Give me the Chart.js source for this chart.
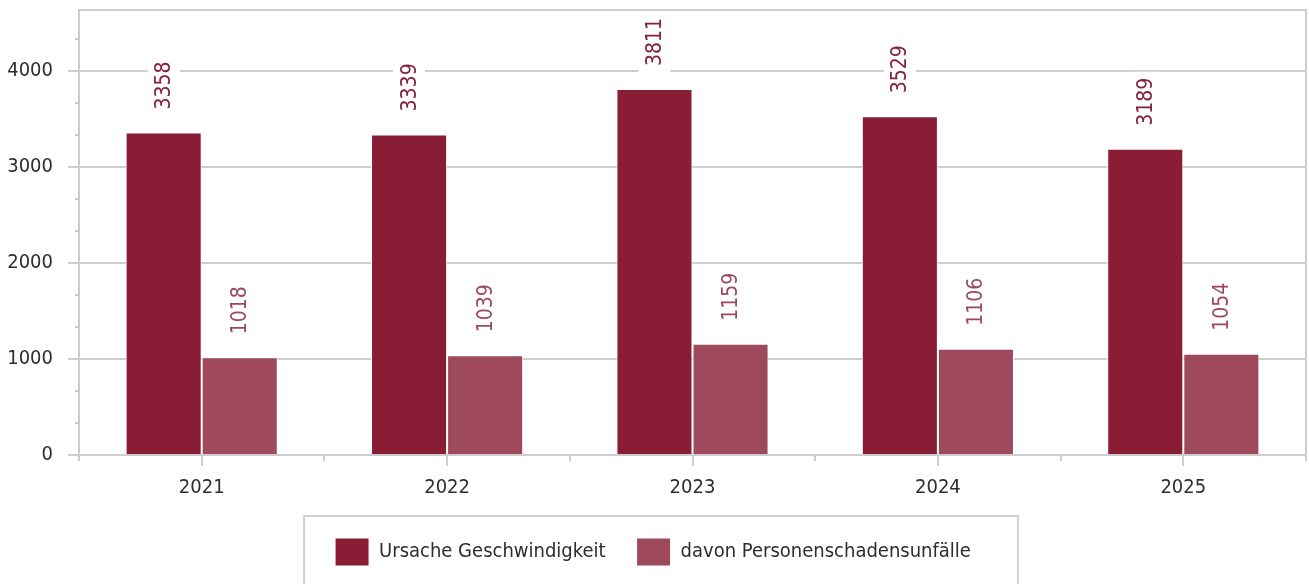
<!DOCTYPE html>
<html>
<head>
<meta charset="utf-8">
<script src="https://cdn.jsdelivr.net/npm/chart.js@4/dist/chart.umd.min.js"></script>
<style>
    html, body { margin: 0; padding: 0; background: #ffffff; }
    #wrap { width: 1309px; height: 584px; position: relative; }
</style>
</head>
<body>
<div id="wrap"><canvas id="speedChart"></canvas></div>
<script>
// ================================
// Geschwindigkeitsunfälle 2021-2025
// ================================

const years = ["2021", "2022", "2023", "2024", "2025"];

const speedAccidents = [3358, 3339, 3811, 3529, 3189];

const personalInjury = [1018, 1039, 1159, 1106, 1054];

const seriesNames = ["Ursache Geschwindigkeit", "davon Personenschadensunfälle"];

const yTicks = [0, 1000, 2000, 3000, 4000];

const barColors = ["#891d35", "#9e4a5c"];
const labelColors = ["#84213b", "#9a4a5c"];
const gridColor = "#cdcdcd";
const textColor = "#2d2d2d";
const fontFamily = '"DejaVu Sans Condensed", "DejaVu Sans", sans-serif';

// value labels above bars, rotated, with white background
const barLabels = {
    id: "barLabels",
    afterDatasetsDraw(chart) {
        const c = chart.ctx;
        chart.data.datasets.forEach((ds, i) => {
            const meta = chart.getDatasetMeta(i);
            meta.data.forEach((bar, j) => {
                const text = String(ds.data[j]);
                c.save();
                c.font = "21px " + fontFamily;
                const w = c.measureText(text).width;
                c.translate(bar.x, bar.y - 23);
                c.rotate(-Math.PI / 2);
                c.fillStyle = "#ffffff";
                c.fillRect(-6, -16, w + 12, 32);
                c.fillStyle = labelColors[i];
                c.textAlign = "left";
                c.textBaseline = "middle";
                c.fillText(text, 0, 1);
                c.restore();
            });
        });
    }
};

// frame, minor ticks and legend box
const frame = {
    id: "frame",
    afterDraw(chart) {
        const c = chart.ctx;
        const a = chart.chartArea;
        const y = chart.scales.y;
        c.save();
        c.strokeStyle = gridColor;
        c.lineWidth = 2;

        // top and right border
        c.beginPath();
        c.moveTo(a.left, a.top);
        c.lineTo(a.right, a.top);
        c.lineTo(a.right, a.bottom);
        c.stroke();

        // minor y ticks
        for (let v = 1000 / 3; v < y.max; v += 1000 / 3) {
            if (Math.abs(v / 1000 - Math.round(v / 1000)) < 0.01) continue;
            const py = Math.round(y.getPixelForValue(v));
            c.beginPath();
            c.moveTo(a.left - 4, py);
            c.lineTo(a.left, py);
            c.stroke();
        }

        // category boundary ticks on x
        const step = (a.right - a.left) / years.length;
        for (let k = 0; k <= years.length; k++) {
            const px = Math.round(a.left + k * step);
            c.beginPath();
            c.moveTo(px, a.bottom);
            c.lineTo(px, a.bottom + 6);
            c.stroke();
        }

        // legend frame
        const boxes = chart.legend.legendHitBoxes;
        if (boxes && boxes.length) {
            const l = Math.min(...boxes.map(b => b.left));
            const r = Math.max(...boxes.map(b => b.left + b.width));
            const t = Math.min(...boxes.map(b => b.top));
            c.strokeStyle = "#d2d2d2";
            c.strokeRect(l - 31, t - 22, (r - l) + 31 + 47, chart.height);
        }
        c.restore();
    }
};

new Chart(document.getElementById("speedChart"), {

    type: "bar",

    data: {
        labels: years,
        datasets: [
            {
                label: seriesNames[0],
                data: speedAccidents,
                backgroundColor: barColors[0],
                borderColor: "#ffffff",
                borderWidth: 1
            },
            {
                label: seriesNames[1],
                data: personalInjury,
                backgroundColor: barColors[1],
                borderColor: "#ffffff",
                borderWidth: 1
            }
        ]
    },

    options: {
        responsive: true,
        maintainAspectRatio: false,
        animation: false,
        layout: {
            padding: { left: 0, top: 10, right: 3, bottom: 8 }
        },
        datasets: {
            bar: {
                categoryPercentage: 0.62,
                barPercentage: 1
            }
        },
        plugins: {
            legend: {
                position: "bottom",
                labels: {
                    boxWidth: 34,
                    boxHeight: 28,
                    padding: 31,
                    color: textColor,
                    font: { family: fontFamily, size: 20 }
                }
            },
            tooltip: { enabled: false }
        },
        scales: {
            x: {
                grid: {
                    drawOnChartArea: false,
                    offset: false,
                    tickLength: 11,
                    color: gridColor,
                    lineWidth: 2
                },
                border: { color: gridColor, width: 2 },
                ticks: {
                    color: textColor,
                    padding: 10,
                    font: { family: fontFamily, size: 20 }
                },
                afterFit(scale) {
                    scale.height = 52;
                    scale.paddingLeft = 0;
                    scale.paddingRight = 0;
                }
            },
            y: {
                min: 0,
                max: 4635,
                afterBuildTicks(scale) {
                    scale.ticks = yTicks.map(v => ({ value: v }));
                },
                grid: {
                    color: gridColor,
                    lineWidth: 2,
                    tickLength: 11
                },
                border: { color: gridColor, width: 2 },
                ticks: {
                    color: textColor,
                    padding: 15,
                    font: { family: fontFamily, size: 20 },
                    callback: (v) => String(v)
                },
                afterFit(scale) {
                    scale.width = 79;
                    scale.paddingTop = 0;
                    scale.paddingBottom = 0;
                }
            }
        }
    },

    plugins: [barLabels, frame]

});
</script>
</body>
</html>
